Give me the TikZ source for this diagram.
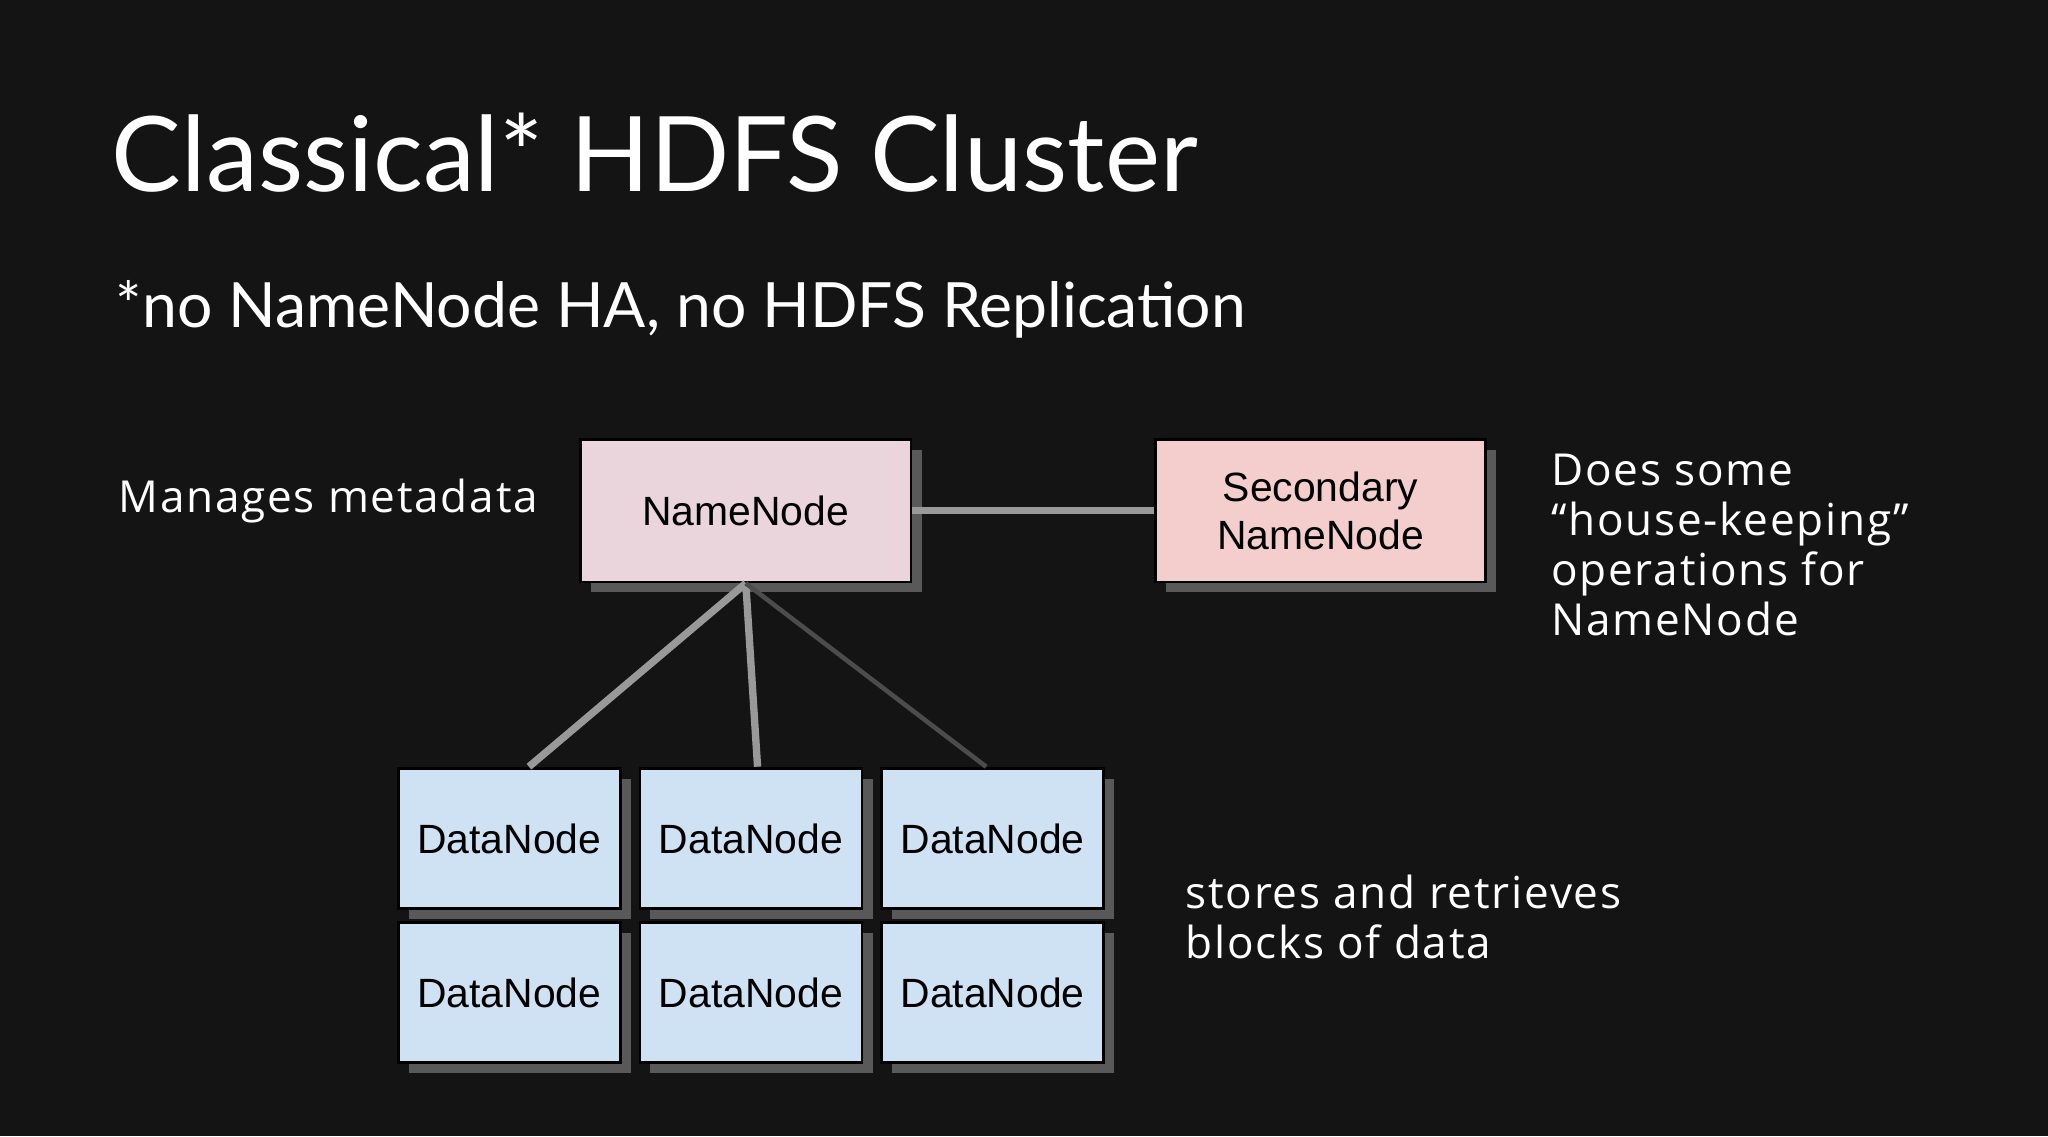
\documentclass[tikz,border=0pt]{standalone}
\usepackage{fontspec}
\setmainfont{Lato}
\newfontfamily\boxfont{Liberation Sans}
\newfontfamily\handfont[LetterSpace=4]{Open Sans}
\usetikzlibrary{shadows}
\definecolor{dnfill}{HTML}{CFE2F3}
\definecolor{nnfill}{HTML}{EAD5DC}
\definecolor{snnfill}{HTML}{F4CDCD}
\definecolor{bg}{HTML}{141414}
\begin{document}
\begin{tikzpicture}[x=0.01cm,y=-0.01cm,
  shadowed/.style={draw=black,line width=0.6pt,minimum width=2.53cm,minimum height=1.09cm,inner sep=0pt,font=\boxfont\fontsize{8.9}{10.5}\selectfont,align=center,
    general shadow={fill=gray!70!black,shadow xshift=0.08cm,shadow yshift=-0.08cm}},
  dn/.style={shadowed,fill=dnfill,minimum width=1.70cm,minimum height=1.07cm},
  hand/.style={text=white,font=\handfont\fontsize{9.6}{10.9}\selectfont,align=left,anchor=north west,inner sep=0pt},
  link/.style={draw=gray!80!white,line width=1.6pt}]
\fill[bg] (0,0) rectangle (1568,870);
\useasboundingbox (0,0) rectangle (1568,870);
\node[anchor=west,text=white,font=\fontsize{22.7}{26}\selectfont,inner sep=0pt] (title) at (85,117) {Classical* HDFS Cluster};
\node[anchor=west,text=white,font=\fontsize{13.6}{16}\selectfont,inner sep=0pt] (sub) at (88,237) {*no NameNode HA, no HDFS Replication};
\node[shadowed,fill=nnfill] (nn) at (571,391) {NameNode};
\node[shadowed,fill=snnfill] (snn) at (1011,391) {Secondary\\NameNode};
\draw[link] (nn.east) -- (snn.west);
\foreach \c/\x in {a/390,b/575,c/760}{
  \node[dn] (\c1) at (\x,642) {DataNode};
  \node[dn] (\c2) at (\x,760) {DataNode};
}
\coordinate (top1) at (405,587);
\coordinate (top2) at (580,587);
\coordinate (top3) at (755,587);
\draw[link] (nn.south) -- (top1);
\draw[link] (nn.south) -- (top2);
\draw[draw=gray!60!black,line width=1pt] (nn.south) -- (top3);
\node[hand] (m) at (90,366) {Manages metadata};
\node[hand] (h) at (1187,347) {Does some\\“house-keeping”\\operations for\\NameNode};
\node[hand] (s) at (907,669) {stores and retrieves\\blocks of data};
\end{tikzpicture}
\end{document}
